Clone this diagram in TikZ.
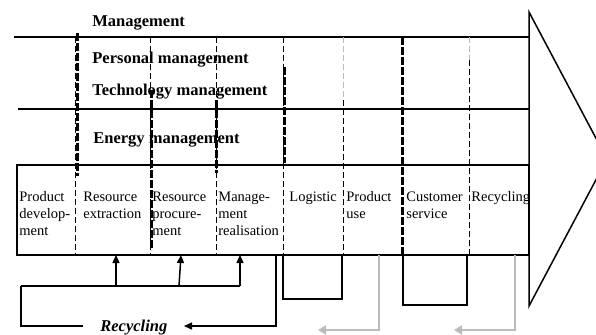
\documentclass[tikz,border=0pt]{standalone}
\usepackage{fontspec}
\setmainfont{Liberation Serif}
\usetikzlibrary{arrows.meta}
\definecolor{lgray}{HTML}{BBBBBB}
\begin{document}
\begin{tikzpicture}[x=0.5pt,y=-0.5pt,
  frame/.style={line width=0.75pt},
  thindash/.style={line width=0.5pt, dash pattern=on 3pt off 1.5pt},
  graydash/.style={line width=0.5pt, draw=lgray, dash pattern=on 3pt off 1.5pt},
  thickdash/.style={line width=1.5pt, dash pattern=on 4pt off 1pt},
  head/.style={font=\bfseries\fontsize{8.25}{10}\selectfont, anchor=base west, inner sep=0pt},
  cell/.style={font=\fontsize{7.25}{8.5}\selectfont, anchor=base west, inner sep=0pt, align=left},
  blackarrow/.style={frame, -{Triangle[length=4pt,width=3.5pt]}},
  grayarrow/.style={line width=1pt, draw=lgray, -{Triangle[length=4pt,width=4.5pt]}}
]
\useasboundingbox (0,0) rectangle (596,334);
\clip (0,0) rectangle (596,334);

% big arrow outline
\coordinate (atop) at (529,12);
\coordinate (abot) at (529,306);
\coordinate (atip) at (607,159);
\draw[frame] (atop) -- (abot) -- (atip) -- cycle;

% horizontal lines and process box
\coordinate (h1l) at (14,37);  \coordinate (h1r) at (529,37);
\coordinate (h2l) at (18,109); \coordinate (h2r) at (529,109);
\draw[frame] (h1l) -- (h1r);
\draw[frame] (h2l) -- (h2r);
\coordinate (boxnw) at (17,165);
\coordinate (boxse) at (529,255);
\draw[frame] (boxnw) rectangle (boxse);

% vertical separators: thin dashed
\foreach \x in {75.5,150,216,283}{
  \draw[thindash] (\x,37) -- (\x,255);
}
\draw[graydash] (343,37) -- (343,100);
\draw[thindash] (343,100) -- (343,255);
\draw[graydash] (469,37) -- (469,60);
\draw[thindash] (469,60) -- (469,255);
% thick dashed parts
\draw[thickdash] (77,33) -- (77,176);
\draw[thickdash] (151,90) -- (151,250);
\draw[thickdash] (216.5,100) -- (216.5,173);
\draw[thickdash] (284,67) -- (284,163);
\draw[thickdash] (402,37) -- (402,255);

% headings
\node[head] (mgmt) at (92,26.5) {Management};
\node[head] (pers) at (92,63) {Personal management};
\node[head] (tech) at (92,95) {Technology management};
\node[head] (ener) at (93,143) {Energy management};

% cells (base anchor = baseline of last line)
\node[cell] (c1) at (19,235) {Product\\develop-\\ment};
\node[cell] (c2) at (83,218) {Resource\\extraction};
\node[cell] (c3) at (152,235) {Resource\\procure-\\ment};
\node[cell] (c4) at (218,235) {Manage-\\ment\\realisation};
\node[cell] (c5) at (289,201) {Logistic};
\node[cell] (c6) at (346,218) {Product\\use};
\node[cell] (c7) at (406,218) {Customer\\service};
\node[cell] (c8) at (471,201) {Recycling};

% recycling loop
\node[font=\bfseries\itshape\fontsize{8.25}{10}\selectfont, anchor=base west, inner sep=0pt] (rec) at (100,331) {Recycling};
\coordinate (r0) at (21,286);
\coordinate (r1) at (240,286);
\coordinate (a1b) at (116,286); \coordinate (a1t) at (116,255);
\coordinate (a2b) at (179,286); \coordinate (a2t) at (181,255);
\coordinate (a3t) at (240,255);
\draw[frame] (r0) -- (r1);
\draw[blackarrow] (a1b) -- (a1t);
\draw[blackarrow] (a2b) -- (a2t);
\draw[blackarrow] (r1) -- (a3t);
\coordinate (l1) at (21,326);
\coordinate (l2) at (83,326);
\draw[frame] (r0) -- (l1) -- (l2);
\coordinate (s0) at (276,255);
\coordinate (s1) at (276,326);
\coordinate (s2) at (184,326);
\draw[blackarrow] (s0) -- (s1) -- (s2);

% small boxes under logistic and customer service
\draw[frame] (283,255) -- (283,299) -- (342,299) -- (342,255);
\draw[frame] (403,255) -- (403,305) -- (467,305) -- (467,255);

% gray arrows
\coordinate (g1a) at (379,255); \coordinate (g1b) at (379,330); \coordinate (g1c) at (318,330);
\coordinate (g2a) at (515,255); \coordinate (g2b) at (515,330); \coordinate (g2c) at (454,330);
\draw[grayarrow] (g1a) -- (g1b) -- (g1c);
\draw[grayarrow] (g2a) -- (g2b) -- (g2c);
\end{tikzpicture}
\end{document}
